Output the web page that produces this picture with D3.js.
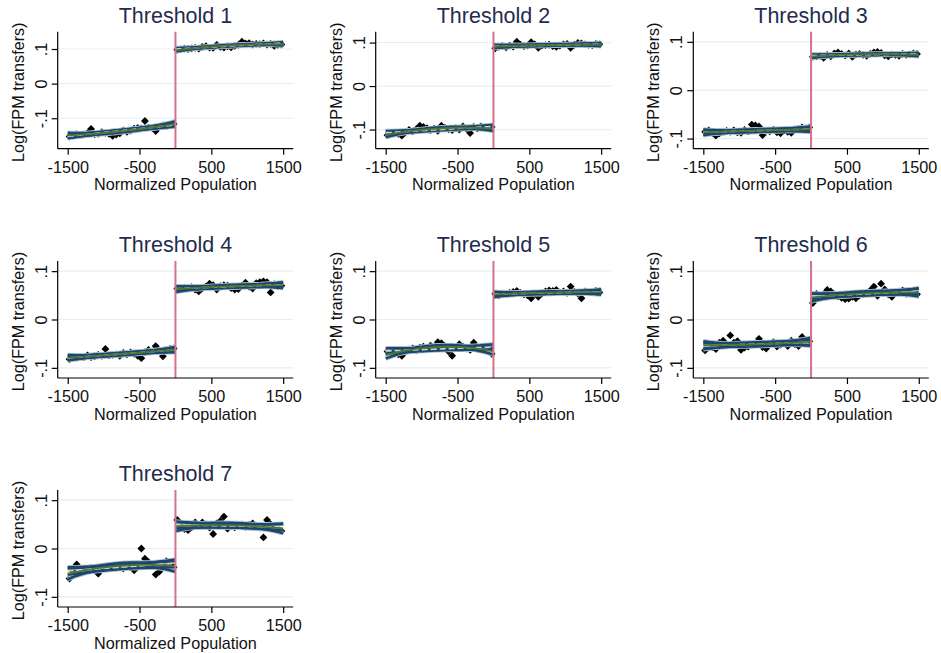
<!DOCTYPE html>
<html>
<head>
<meta charset="utf-8">
<script src="https://cdn.jsdelivr.net/npm/d3@7"></script>
<style>
  body { margin: 0; background: #fff; }
  text { font-family: "Liberation Sans", Arial, sans-serif; }
</style>
</head>
<body>
<svg id="chart" width="941" height="653"></svg>
<script>
// ---- data -------------------------------------------------------------
const titles = ["Threshold 1", "Threshold 2", "Threshold 3", "Threshold 4",
                "Threshold 5", "Threshold 6", "Threshold 7"];

// bin centres of normalized population, below and above the threshold
const binsLeft = [-1475, -1425, -1375, -1325, -1275, -1225, -1175, -1125, -1075, -1025,
                  -975, -925, -875, -825, -775, -725, -675, -625, -575, -525,
                  -475, -425, -375, -325, -275, -225, -175, -125, -75, -25];
const binsRight = [25, 75, 125, 175, 225, 275, 325, 375, 425, 475,
                   525, 575, 625, 675, 725, 775, 825, 875, 925, 975,
                   1025, 1075, 1125, 1175, 1225, 1275, 1325, 1375, 1425, 1475];

// binned means of log(FPM transfers)
const t1Left = [-0.153, -0.150, -0.146, -0.148, -0.147, -0.143, -0.131, -0.146, -0.145, -0.140,
                -0.142, -0.145, -0.151, -0.147, -0.144, -0.135, -0.139, -0.136, -0.130, -0.128,
                -0.129, -0.108, -0.127, -0.128, -0.137, -0.124, -0.121, -0.122, -0.119, -0.117];
const t1Right = [0.098, 0.099, 0.101, 0.100, 0.102, 0.103, 0.101, 0.106, 0.108, 0.104,
                 0.103, 0.112, 0.106, 0.104, 0.108, 0.105, 0.109, 0.112, 0.121, 0.116,
                 0.117, 0.113, 0.115, 0.114, 0.116, 0.113, 0.115, 0.109, 0.112, 0.113];

const t2Left = [-0.113, -0.111, -0.108, -0.110, -0.114, -0.106, -0.101, -0.104, -0.099, -0.091,
                -0.094, -0.097, -0.101, -0.098, -0.103, -0.091, -0.096, -0.099, -0.101, -0.097,
                -0.100, -0.093, -0.098, -0.108, -0.094, -0.097, -0.093, -0.096, -0.095, -0.094];
const t2Right = [0.087, 0.090, 0.092, 0.089, 0.093, 0.091, 0.102, 0.095, 0.092, 0.093,
                 0.101, 0.096, 0.088, 0.093, 0.094, 0.095, 0.092, 0.090, 0.093, 0.096,
                 0.097, 0.088, 0.095, 0.099, 0.098, 0.096, 0.095, 0.094, 0.097, 0.096];

const t3Left = [-0.086, -0.083, -0.088, -0.094, -0.089, -0.086, -0.084, -0.086, -0.083, -0.087,
                -0.088, -0.082, -0.085, -0.071, -0.073, -0.075, -0.093, -0.084, -0.085, -0.082,
                -0.087, -0.089, -0.083, -0.086, -0.088, -0.081, -0.080, -0.077, -0.079, -0.077];
const t3Right = [0.069, 0.070, 0.071, 0.067, 0.073, 0.070, 0.076, 0.078, 0.075, 0.072,
                 0.076, 0.069, 0.074, 0.075, 0.073, 0.071, 0.075, 0.078, 0.079, 0.077,
                 0.072, 0.070, 0.074, 0.073, 0.071, 0.075, 0.073, 0.074, 0.076, 0.075];

const t4Left = [-0.082, -0.078, -0.079, -0.077, -0.078, -0.074, -0.078, -0.076, -0.073, -0.075,
                -0.061, -0.074, -0.073, -0.072, -0.075, -0.069, -0.072, -0.068, -0.071, -0.075,
                -0.080, -0.068, -0.063, -0.066, -0.055, -0.064, -0.076, -0.063, -0.061, -0.060];
const t4Right = [0.064, 0.063, 0.066, 0.065, 0.067, 0.062, 0.058, 0.065, 0.068, 0.074,
                 0.071, 0.062, 0.069, 0.071, 0.070, 0.065, 0.062, 0.063, 0.070, 0.076,
                 0.068, 0.064, 0.075, 0.077, 0.079, 0.077, 0.056, 0.073, 0.069, 0.070];

const t5Left = [-0.066, -0.071, -0.068, -0.072, -0.075, -0.066, -0.062, -0.060, -0.064, -0.058,
                -0.056, -0.061, -0.054, -0.057, -0.047, -0.049, -0.055, -0.066, -0.075, -0.058,
                -0.051, -0.056, -0.060, -0.063, -0.048, -0.058, -0.061, -0.057, -0.066, -0.071];
const t5Right = [0.053, 0.050, 0.054, 0.052, 0.055, 0.057, 0.059, 0.055, 0.052, 0.050,
                 0.044, 0.053, 0.047, 0.054, 0.058, 0.060, 0.059, 0.061, 0.056, 0.058,
                 0.055, 0.068, 0.057, 0.054, 0.044, 0.058, 0.056, 0.057, 0.059, 0.056];

const t6Left = [-0.064, -0.052, -0.057, -0.061, -0.048, -0.044, -0.052, -0.033, -0.048, -0.045,
                -0.063, -0.058, -0.056, -0.052, -0.050, -0.040, -0.057, -0.060, -0.050, -0.047,
                -0.056, -0.052, -0.049, -0.055, -0.044, -0.051, -0.055, -0.036, -0.043, -0.045];
const t6Right = [0.034, 0.053, 0.049, 0.052, 0.061, 0.058, 0.052, 0.048, 0.045, 0.042,
                 0.043, 0.047, 0.044, 0.050, 0.052, 0.054, 0.060, 0.068, 0.049, 0.074,
                 0.062, 0.052, 0.047, 0.055, 0.058, 0.060, 0.053, 0.057, 0.056, 0.052];

const t7Left = [-0.062, -0.048, -0.033, -0.044, -0.046, -0.042, -0.040, -0.045, -0.052, -0.043,
                -0.038, -0.041, -0.037, -0.035, -0.038, -0.041, -0.036, -0.039, -0.045, -0.033,
                0.000, -0.021, -0.028, -0.035, -0.054, -0.048, -0.036, -0.026, -0.034, -0.039];
const t7Right = [0.059, 0.045, 0.040, 0.038, 0.044, 0.054, 0.047, 0.054, 0.050, 0.043,
                 0.030, 0.052, 0.057, 0.066, 0.041, 0.046, 0.044, 0.048, 0.050, 0.045,
                 0.049, 0.052, 0.047, 0.043, 0.023, 0.059, 0.050, 0.047, 0.041, 0.036];

const seriesLeft = [t1Left, t2Left, t3Left, t4Left, t5Left, t6Left, t7Left];
const seriesRight = [t1Right, t2Right, t3Right, t4Right, t5Right, t6Right, t7Right];

// y-axis ranges of each panel
const yLow = [-0.188, -0.144, -0.121, -0.121, -0.121, -0.121, -0.121];
const yHigh = [0.150, 0.125, 0.121, 0.121, 0.121, 0.121, 0.121];

const xTicks = [-1500, -500, 500, 1500];
const yTicks = [-0.1, 0, 0.1];
const yTickLabels = ["-.1", "0", ".1"];
const xTitle = "Normalized Population";
const yTitle = "Log(FPM transfers)";

// ---- styling / layout ------------------------------------------------
const colLeft = [57.7, 375.7, 693.3];
const rowTop = [31.7, 261, 490];
const plotW = 235.5, plotH = 117;
const navy = "#1a476f", halo = "#a9bfcf", green = "#55752f", paleFit = "#d3d6c6";
const cutColor = "#d6718a", titleColor = "#1f2c4f";
const labelSize = 16.2;

const svg = d3.select("#chart");

// ---- polynomial least-squares fit with 95% CI of the mean -------------
function invert(M) {
  const n = M.length;
  const A = M.map((r, i) => r.concat(d3.range(n).map(j => (i === j ? 1 : 0))));
  for (let c = 0; c < n; c++) {
    let piv = c;
    for (let r = c + 1; r < n; r++) if (Math.abs(A[r][c]) > Math.abs(A[piv][c])) piv = r;
    [A[c], A[piv]] = [A[piv], A[c]];
    const d = A[c][c];
    for (let j = 0; j < 2 * n; j++) A[c][j] /= d;
    for (let r = 0; r < n; r++) {
      if (r === c) continue;
      const f = A[r][c];
      for (let j = 0; j < 2 * n; j++) A[r][j] -= f * A[c][j];
    }
  }
  return A.map(r => r.slice(n));
}

function polyFit(xs, ys, deg) {
  const p = deg + 1, n = xs.length, sc = 1000;
  const basis = x => d3.range(p).map(k => Math.pow(x / sc, k));
  const X = xs.map(basis);
  const XtX = d3.range(p).map(i => d3.range(p).map(j => d3.sum(X, r => r[i] * r[j])));
  const inv = invert(XtX);
  const Xty = d3.range(p).map(i => d3.sum(X, (r, k) => r[i] * ys[k]));
  const beta = inv.map(row => d3.sum(row, (v, j) => v * Xty[j]));
  const pred = v => d3.sum(v, (a, j) => a * beta[j]);
  const s2 = d3.sum(X, (r, k) => (ys[k] - pred(r)) ** 2) / (n - p);
  const tcrit = 2.05;
  return x => {
    const v = basis(x);
    const yhat = pred(v);
    let q = 0;
    for (let i = 0; i < p; i++) for (let j = 0; j < p; j++) q += v[i] * inv[i][j] * v[j];
    const se = Math.sqrt(s2 * q);
    return { x, y: yhat, lo: yhat - tcrit * se, hi: yhat + tcrit * se };
  };
}

// ---- panels -------------------------------------------------------------
titles.forEach((title, idx) => {
  const col = idx % 3, row = Math.floor(idx / 3);
  const left = colLeft[col], top = rowTop[row];
  const g = svg.append("g").attr("transform", `translate(${left},${top})`);

  const x = d3.scaleLinear().domain([-1639.5, 1639.5]).range([0, plotW]);
  const y = d3.scaleLinear().domain([yLow[idx], yHigh[idx]]).range([plotH, 0]);

  // grid lines
  g.selectAll(".grid").data(yTicks).join("line")
    .attr("x1", 0).attr("x2", plotW)
    .attr("y1", d => y(d)).attr("y2", d => y(d))
    .attr("stroke", "#e7eff1").attr("stroke-width", 1.2);

  // binned means
  const diamond = (cx, cy, r) => `M${cx},${cy - r}L${cx + r},${cy}L${cx},${cy + r}L${cx - r},${cy}Z`;
  const pts = binsLeft.map((b, i) => [b, seriesLeft[idx][i]])
    .concat(binsRight.map((b, i) => [b, seriesRight[idx][i]]));
  g.selectAll(".pt").data(pts).join("path")
    .attr("d", d => diamond(x(d[0]), y(d[1]), 3.9))
    .attr("fill", "#000");

  // fits on each side of the threshold
  const sides = [
    { xs: binsLeft, ys: seriesLeft[idx], from: -1500, to: 0 },
    { xs: binsRight, ys: seriesRight[idx], from: 0, to: 1500 }
  ];
  sides.forEach(s => {
    const grid = d3.range(0, 61).map(k => s.from + (s.to - s.from) * k / 60);
    const lin = grid.map(polyFit(s.xs, s.ys, 1));
    const quad = grid.map(polyFit(s.xs, s.ys, 2));
    const line = acc => d3.line().x(d => x(d.x)).y(d => y(acc(d)));
    const bands = [[lin, d => d.hi], [lin, d => d.lo], [quad, d => d.hi], [quad, d => d.lo]];
    bands.forEach(([data, acc]) => {
      g.append("path").attr("d", line(acc)(data))
        .attr("fill", "none").attr("stroke", halo).attr("stroke-width", 4.4);
    });
    bands.forEach(([data, acc]) => {
      g.append("path").attr("d", line(acc)(data))
        .attr("fill", "none").attr("stroke", navy).attr("stroke-width", 2.6);
    });
    g.append("path").attr("d", line(d => d.y)(lin))
      .attr("fill", "none").attr("stroke", paleFit).attr("stroke-width", 1.6)
      .attr("stroke-dasharray", "6,3");
    g.append("path").attr("d", line(d => d.y)(quad))
      .attr("fill", "none").attr("stroke", green).attr("stroke-width", 1.8);
  });

  // threshold line
  g.append("line")
    .attr("x1", x(0)).attr("x2", x(0)).attr("y1", 0).attr("y2", plotH)
    .attr("stroke", cutColor).attr("stroke-width", 2);

  // axes
  const xAxis = d3.axisBottom(x).tickValues(xTicks).tickSize(6)
    .tickFormat(d3.format("d"));
  const gx = g.append("g").attr("transform", `translate(0,${plotH})`).call(xAxis);
  gx.select(".domain").attr("d", `M0,0H${plotW}`).attr("stroke", "#000").attr("stroke-width", 1.2);
  gx.selectAll(".tick line").attr("stroke", "#000").attr("stroke-width", 1.2);
  gx.selectAll(".tick text").attr("font-size", labelSize).attr("fill", "#111")
    .attr("font-family", "'Liberation Sans', Arial, sans-serif")
    .attr("dy", null).attr("y", 24).text(d => d3.format("d")(d).replace("−", "-"));

  const yAxis = d3.axisLeft(y).tickValues(yTicks).tickSize(6)
    .tickFormat((d, i) => yTickLabels[i]);
  const gy = g.append("g").call(yAxis);
  gy.select(".domain").attr("d", `M0,0V${plotH}`).attr("stroke", "#000").attr("stroke-width", 1.2);
  gy.selectAll(".tick line").attr("stroke", "#000").attr("stroke-width", 1.2);
  gy.selectAll(".tick text")
    .attr("font-size", labelSize).attr("fill", "#111")
    .attr("font-family", "'Liberation Sans', Arial, sans-serif")
    .attr("x", null).attr("dy", null)
    .attr("text-anchor", "middle")
    .attr("transform", "translate(-11,0) rotate(-90)");

  // titles
  g.append("text").attr("x", plotW / 2).attr("y", -9)
    .attr("text-anchor", "middle").attr("font-size", 21.5).attr("fill", titleColor)
    .text(title);
  g.append("text").attr("x", plotW / 2).attr("y", plotH + 41.5)
    .attr("text-anchor", "middle").attr("font-size", labelSize).attr("fill", "#111")
    .text(xTitle);
  g.append("text")
    .attr("transform", `translate(-34,${plotH / 2 + 2}) rotate(-90)`)
    .attr("text-anchor", "middle").attr("font-size", labelSize).attr("fill", "#111")
    .text(yTitle);
});
</script>
</body>
</html>
